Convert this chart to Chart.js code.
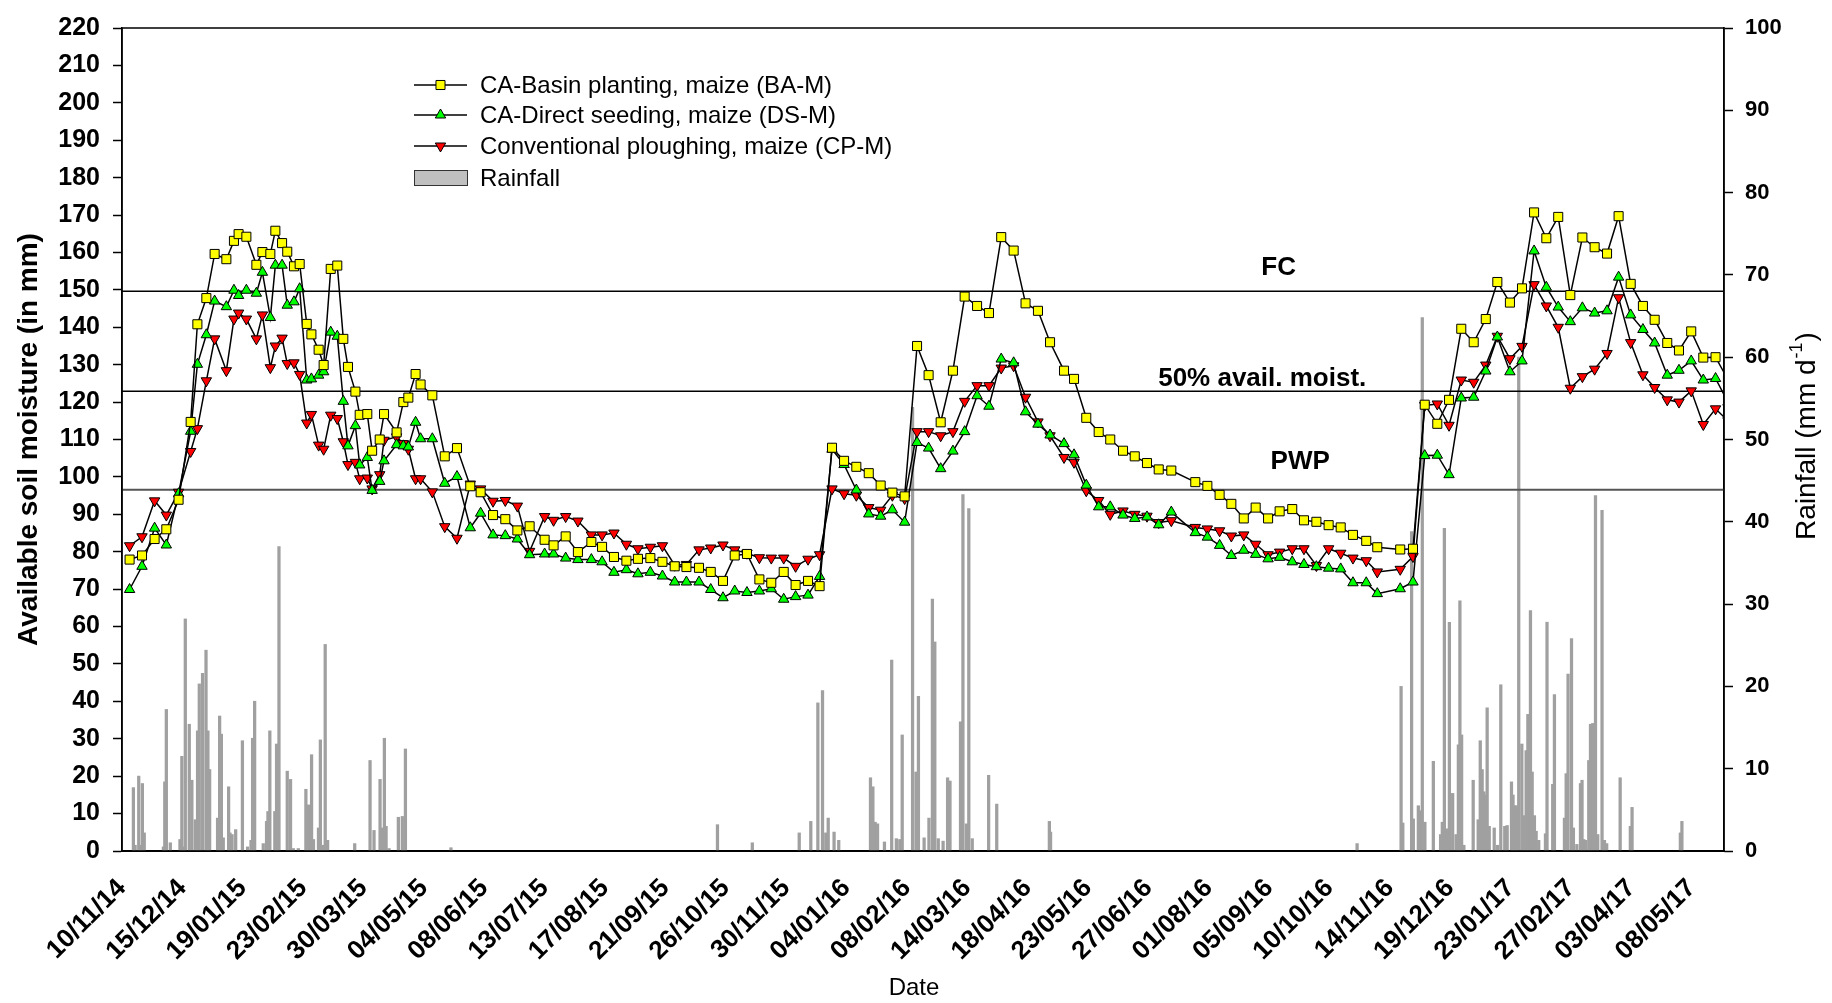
<!DOCTYPE html>
<html><head><meta charset="utf-8">
<script src="https://cdn.jsdelivr.net/npm/chart.js@4.4.1/dist/chart.umd.min.js"></script>
<style>html,body{margin:0;padding:0;background:#fff;}</style>
</head><body>
<canvas id="c" width="1832" height="1003"></canvas>
<script>
// ---------- DATA ----------
const dateTicks = ['10/11/14','15/12/14','19/01/15','23/02/15','30/03/15','04/05/15','08/06/15','13/07/15','17/08/15','21/09/15','26/10/15','30/11/15','04/01/16','08/02/16','14/03/16','18/04/16','23/05/16','27/06/16','01/08/16','05/09/16','10/10/16','14/11/16','19/12/16','23/01/17','27/02/17','03/04/17','08/05/17'];
const tickStepDays = 35;

// sampling dates, in days after 10/11/14
const sampleDays = [4.4,11.6,18.9,25.7,32.8,39.8,43.7,48.9,53.7,60.5,64.9,67.6,72.1,77.9,81.4,86.0,88.9,92.8,95.8,99.7,103.0,107.1,109.8,114.0,116.9,121.0,124.8,128.3,131.0,135.3,137.8,142.2,145.0,149.4,151.9,159.2,163.1,166.0,170.2,173.1,179.9,187.1,194.2,201.9,207.9,215.1,222.2,229.2,236.3,245.0,250.2,257.2,264.3,272.1,278.3,285.2,292.4,299.1,306.3,313.3,320.4,327.2,334.5,341.3,348.4,355.2,362.3,369.5,376.4,383.6,390.5,397.7,404.4,411.6,418.6,425.7,432.9,439.8,446.6,453.7,460.9,467.6,474.6,481.7,488.5,495.7,502.6,509.7,516.9,523.8,531.0,538.0,546.1,551.9,559.0,566.2,572.9,580.3,587.1,594.2,601.0,608.3,622.2,629.2,636.3,643.1,650.3,657.2,664.4,671.1,678.4,685.2,692.4,699.5,706.5,713.6,721.3,727.7,741.0,748.4,755.2,762.5,769.3,776.4,783.6,790.6,797.3,804.6,811.6,818.6,825.7,832.6,839.6,846.6,853.7,860.9,867.6,874.6,881.7,888.5,895.8,902.6,909.7,916.7,923.8,931.0];

const baM = [77.9,79.0,83.4,86.0,93.9,114.7,140.8,147.8,159.6,158.2,163.1,164.9,164.2,156.7,160.1,159.6,165.8,162.5,160.2,156.3,156.9,140.9,138.1,134.0,129.9,155.6,156.5,136.9,129.4,122.8,116.6,116.8,107.0,110.0,116.8,111.9,120.0,121.2,127.5,124.7,121.8,105.5,107.7,97.5,95.9,89.8,88.7,85.7,86.8,83.2,81.7,84.1,79.9,82.6,81.3,78.6,77.6,78.1,78.3,77.3,76.1,75.9,75.7,74.6,72.2,79.0,79.4,72.6,71.7,74.6,71.1,72.2,70.8,107.8,104.3,102.7,101.0,97.7,95.8,94.8,135.0,127.2,114.6,128.4,148.2,145.7,143.8,164.1,160.5,146.4,144.4,136.0,128.4,126.2,115.8,112.0,110.0,107.0,105.5,103.7,102.0,101.7,98.6,97.6,95.2,92.8,88.9,91.8,88.9,90.8,91.4,88.4,88.0,87.1,86.5,84.5,82.9,81.2,80.6,80.8,119.3,114.2,120.6,139.6,136.0,142.2,152.1,146.6,150.4,170.7,163.8,169.5,148.6,164.0,161.4,159.7,169.7,151.6,145.7,142.0,135.8,133.8,138.9,131.9,132.0,126.0];

const dsM = [69.9,76.1,86.3,81.8,95.5,112.2,130.1,138.0,147.0,145.5,149.9,148.5,149.9,149.1,154.7,142.6,156.6,156.6,145.9,146.8,150.3,125.9,126.2,127.2,128.1,138.7,137.6,120.2,108.3,113.7,103.2,105.2,96.4,98.8,104.3,108.6,108.3,108.0,114.6,110.2,110.2,98.3,100.1,86.4,90.3,84.5,84.3,83.4,79.2,79.4,79.4,78.3,77.9,77.9,77.3,74.5,75.2,74.1,74.5,73.5,71.9,71.9,71.9,69.9,67.7,69.5,69.1,69.5,70.1,67.3,68.0,68.4,73.4,107.4,103.3,96.5,90.1,89.5,91.2,87.9,109.2,107.7,102.2,106.9,112.1,121.7,118.9,131.5,130.5,117.4,114.1,111.2,108.9,105.9,97.8,92.0,92.0,89.8,88.9,89.3,87.2,90.6,85.1,83.9,81.7,79.0,80.4,79.3,78.1,78.5,77.3,76.6,76.0,75.6,75.4,71.7,71.7,68.8,70.1,71.9,105.7,105.8,100.6,121.1,121.3,128.3,137.4,128.1,131.0,160.4,150.7,145.4,141.5,145.2,143.8,144.4,153.4,143.3,139.4,135.8,127.2,128.5,131.0,125.9,126.3,120.0];

const cpM = [81.6,84.0,93.6,89.8,95.9,106.8,112.9,125.7,136.9,128.4,142.2,143.8,142.2,136.9,143.3,129.2,135.0,137.1,130.3,130.5,127.4,114.4,116.7,108.5,107.4,116.5,115.6,109.4,103.3,103.9,99.5,99.7,96.8,100.6,109.8,110.7,108.9,107.4,99.5,99.5,96.0,86.7,83.6,98.1,96.8,93.5,93.7,92.2,80.1,89.4,88.4,89.4,88.2,84.5,84.5,85.0,82.0,80.8,81.2,81.6,76.4,76.6,80.5,81.0,81.8,80.5,79.6,78.4,78.3,78.3,76.1,78.0,79.2,96.8,95.5,95.1,91.8,91.1,95.1,94.2,112.1,112.1,111.0,112.1,120.2,124.4,124.4,129.1,129.7,121.3,114.7,111.0,105.2,103.9,96.3,93.7,90.0,90.9,90.0,89.5,87.8,88.3,86.5,86.1,85.6,84.2,84.5,82.0,79.2,79.9,80.8,80.8,76.3,80.8,79.6,78.3,77.6,74.6,75.3,78.7,119.1,119.5,113.8,125.9,125.3,129.9,137.6,131.6,134.9,151.4,145.7,140.0,123.7,126.8,128.8,133.0,147.9,135.9,127.3,123.9,120.6,120.0,123.0,114.0,118.2,115.0];

// daily rainfall (mm/d), day after 10/11/14
const rainDays = [6.6,7.6,9.7,10.6,11.8,12.9,24.0,24.8,25.7,28.0,33.6,34.7,35.7,36.7,39.0,40.5,42.5,43.8,44.8,46.7,48.7,49.8,50.8,55.4,56.6,57.6,58.7,61.8,62.6,63.8,65.9,69.8,72.8,74.8,75.7,76.9,81.9,83.8,84.6,85.7,88.6,89.6,91.0,95.8,97.7,99.3,102.2,106.6,108.1,109.9,111.0,113.9,115.0,116.6,117.8,119.2,134.9,143.8,146.1,149.6,151.1,152.1,153.1,154.8,160.2,162.5,164.3,190.7,345.2,365.4,392.6,399.3,403.4,406.1,408.0,409.4,412.8,415.5,433.9,435.3,436.6,438.0,442.0,446.2,448.9,450.9,452.3,458.3,460.3,461.7,465.0,467.8,469.8,471.2,473.2,476.0,478.6,480.0,486.1,487.5,489.5,490.9,492.9,502.4,507.1,537.6,538.3,716.0,741.5,742.5,747.6,748.6,751.5,752.8,753.8,755.3,760.2,764.4,765.4,766.6,768.5,769.5,771.4,773.4,774.7,775.6,776.6,777.9,783.3,786.2,787.4,788.5,789.5,790.4,791.4,792.6,795.5,797.4,799.3,801.6,803.0,805.5,806.4,807.4,808.4,809.7,811.5,812.7,814.0,815.0,816.5,817.5,818.8,819.8,821.3,825.2,826.1,829.4,830.4,836.2,837.2,838.3,840.3,841.4,843.4,845.5,846.4,847.4,848.4,850.3,851.3,852.6,854.2,855.5,858.0,859.4,860.7,868.5,874.4,875.4,903.4,904.3];
const rainMm = [7.7,0.7,9.1,0.7,8.2,2.2,0.5,8.4,17.2,1.0,1.4,11.5,0.5,28.2,15.4,8.6,3.8,14.6,20.3,21.6,24.4,14.6,9.9,4.0,16.4,14.2,1.6,7.8,2.2,2.0,2.6,13.4,0.5,1.3,13.7,18.2,0.9,3.6,4.8,14.6,4.8,13.0,37.0,9.7,8.7,0.3,0.3,7.5,5.6,11.7,1.4,2.8,13.5,0.7,25.1,1.3,0.9,11.0,2.5,8.7,2.8,13.7,3.0,0.3,4.1,4.2,12.4,0.4,3.2,1.0,2.2,3.6,18.0,19.5,2.2,4.0,2.3,1.3,8.9,7.8,3.5,3.3,1.1,23.2,1.5,1.4,14.1,53.9,9.6,18.8,1.6,4.0,30.6,25.4,1.5,1.2,8.9,8.5,15.7,43.3,3.3,41.6,1.5,9.2,5.7,3.6,2.3,0.9,20.0,3.4,38.8,3.9,5.5,4.9,64.8,3.5,10.9,2.0,3.5,39.2,2.7,27.8,7.0,2.0,12.9,30.4,14.1,0.7,8.6,3.8,13.4,9.9,7.2,6.8,17.4,3.0,2.8,0.7,20.2,3.0,3.1,8.4,6.8,5.5,5.5,60.0,13.0,4.3,12.2,16.6,29.2,9.6,4.3,2.4,1.3,2.1,27.8,8.1,19.0,4.0,9.4,21.5,25.8,2.8,0.8,8.2,8.6,1.4,1.3,11.0,15.4,15.5,43.2,2.0,41.4,1.3,0.9,8.9,3.0,5.3,2.2,3.6];

// reference soil-moisture levels (mm)
const refNames  = ['FC','50% avail. moist.','PWP'];
const refLevels = [149.6, 122.9, 96.6];

const seriesNames = ['CA-Basin planting, maize (BA-M)','CA-Direct seeding, maize (DS-M)','Conventional ploughing, maize (CP-M)','Rainfall'];
const xTitle = 'Date';

// ---------- CHART ----------
const FONT = "'Liberation Sans', Arial, Helvetica, sans-serif";
const X_MAX = 928.7;
const xy = arr => sampleDays.map((d,i)=>({x:d, y:arr[i]}));
const refSet = (lvl, col, w) => ({type:'line', data:[{x:0,y:lvl},{x:X_MAX,y:lvl}], borderColor:col, borderWidth:w, pointRadius:0, yAxisID:'y', order:5});

const framePlugin = {
  id:'frame',
  afterDatasetsDraw(chart){
    const {ctx, chartArea:a} = chart;
    ctx.save();
    ctx.strokeStyle='#000'; ctx.lineWidth=1.5;
    ctx.strokeRect(a.left, a.top, a.right-a.left, a.bottom-a.top);
    ctx.restore();
  }
};

const refLabelPlugin = {
  id:'refLabels',
  afterDatasetsDraw(chart){
    const {ctx, scales:{x,y}} = chart;
    const xPos = [670.5, 661, 683];   // label centre, in days
    const up   = [24, 12, 28];        // px above line
    ctx.save();
    ctx.fillStyle='#000';
    ctx.font = "bold 26px "+FONT;
    ctx.textAlign='center'; ctx.textBaseline='middle';
    refNames.forEach((n,i)=>{
      ctx.fillText(n, x.getPixelForValue(xPos[i]), y.getPixelForValue(refLevels[i]) - up[i]);
    });
    ctx.restore();
  }
};

const legendPlugin = {
  id:'customLegend',
  afterDraw(chart){
    const ctx = chart.ctx;
    const x0 = 414, x1 = 467, tx = 480;
    const rows = [85, 115, 146, 178];
    const styles = [
      {pointStyle:'rect', rotation:0, radius:6.4, fill:'#ffff00'},
      {pointStyle:'triangle', rotation:0, radius:6, fill:'#00ff00'},
      {pointStyle:'triangle', rotation:180, radius:6, fill:'#ff0000'}
    ];
    ctx.save();
    ctx.font = "24px "+FONT;
    ctx.textBaseline='middle'; ctx.textAlign='left';
    seriesNames.forEach((name,i)=>{
      const yy = rows[i];
      if (i<3){
        ctx.strokeStyle='#000'; ctx.lineWidth=1.5;
        ctx.beginPath(); ctx.moveTo(x0,yy); ctx.lineTo(x1,yy); ctx.stroke();
        const s = styles[i];
        ctx.fillStyle = s.fill; ctx.strokeStyle='#000'; ctx.lineWidth=1;
        Chart.helpers.drawPoint(ctx, {pointStyle:s.pointStyle, rotation:s.rotation, radius:s.radius, borderWidth:1}, (x0+x1)/2, yy);
      } else {
        ctx.fillStyle='#c0c0c0'; ctx.fillRect(x0, yy-7.5, x1-x0, 15);
        ctx.strokeStyle='#333'; ctx.lineWidth=1; ctx.strokeRect(x0+0.5, yy-7.5, x1-x0, 15);
      }
      ctx.fillStyle='#000';
      ctx.fillText(name, tx, yy+1);
    });
    ctx.restore();
  }
};

const titlesPlugin = {
  id:'titles',
  afterDraw(chart){
    const ctx = chart.ctx;
    ctx.save();
    ctx.fillStyle='#000';
    // x title
    ctx.font = "24px "+FONT; ctx.textAlign='center'; ctx.textBaseline='middle';
    ctx.fillText(xTitle, 914, 988);
    // right title with superscript
    const main = "Rainfall (mm d", sup = "-1", tail = ")";
    ctx.translate(1807, 437);
    ctx.rotate(-Math.PI/2);
    ctx.textAlign='left';
    const bigF = "28px "+FONT, supF = "18px "+FONT;
    ctx.font = bigF; const w1 = ctx.measureText(main).width, w3 = ctx.measureText(tail).width;
    ctx.font = supF; const w2 = ctx.measureText(sup).width;
    let sx = -(w1+w2+w3)/2;
    ctx.font = bigF; ctx.fillText(main, sx, 0); sx += w1;
    ctx.font = supF; ctx.fillText(sup, sx+1, -10); sx += w2+2;
    ctx.font = bigF; ctx.fillText(tail, sx, 0);
    ctx.restore();
  }
};

new Chart(document.getElementById('c'), {
  type:'line',
  data:{ datasets:[
    {type:'bar', label:'Rainfall', data: rainDays.map((d,i)=>({x:d, y:rainMm[i]})), yAxisID:'y2',
     backgroundColor:'#a0a0a0', borderWidth:0, barThickness:2.6, order:10},
    refSet(refLevels[0], '#000', 1.5),
    refSet(refLevels[1], '#000', 1.5),
    refSet(refLevels[2], '#555', 2),
    {label:'CP-M', data:xy(cpM), yAxisID:'y', borderColor:'#000', borderWidth:1.5, tension:0,
     pointStyle:'triangle', rotation:180, pointRadius:6, pointBackgroundColor:'#ff0000', pointBorderColor:'#000', pointBorderWidth:1, order:3},
    {label:'DS-M', data:xy(dsM), yAxisID:'y', borderColor:'#000', borderWidth:1.5, tension:0,
     pointStyle:'triangle', rotation:0, pointRadius:6, pointBackgroundColor:'#00ff00', pointBorderColor:'#000', pointBorderWidth:1, order:2},
    {label:'BA-M', data:xy(baM), yAxisID:'y', borderColor:'#000', borderWidth:1.5, tension:0,
     pointStyle:'rect', pointRadius:6.4, pointBackgroundColor:'#ffff00', pointBorderColor:'#000', pointBorderWidth:1, order:1}
  ]},
  options:{
    responsive:false, animation:false, devicePixelRatio:1,
    layout:{padding:{top:19, left:0, right:0, bottom:0}},
    plugins:{legend:{display:false}, tooltip:{enabled:false}},
    scales:{
      x:{type:'linear', min:0, max:X_MAX, offset:false,
         afterBuildTicks: s => { s.ticks = dateTicks.map((t,i)=>({value:i*tickStepDays})); },
         ticks:{callback:(v,i)=>dateTicks[i], autoSkip:false, minRotation:45, maxRotation:45,
                font:{family:FONT, size:26, weight:'bold'}, color:'#000', padding:22},
         grid:{display:false, drawTicks:false},
         border:{display:true, color:'#000', width:2},
         title:{display:false},
         afterFit: s => { s.height = 152; }
      },
      y:{position:'left', min:0, max:220,
         ticks:{stepSize:10, font:{family:FONT, size:25, weight:'bold'}, color:'#000', padding:13},
         grid:{drawOnChartArea:false, tickLength:9, color:'#000', tickWidth:1.5},
         border:{display:true, color:'#000', width:1.5},
         title:{display:true, text:'Available soil moisture (in mm)', font:{family:FONT, size:28, weight:'bold'}, color:'#000', padding:{top:12,bottom:0}},
         afterFit: s => { s.width = 122; }
      },
      y2:{position:'right', min:0, max:100,
         ticks:{stepSize:10, font:{family:FONT, size:22, weight:'bold'}, color:'#000', padding:12},
         grid:{drawOnChartArea:false, tickLength:9, color:'#000', tickWidth:1.5},
         border:{display:true, color:'#000', width:1.5},
         afterFit: s => { s.width = 108; }
      }
    }
  },
  plugins:[framePlugin, refLabelPlugin, legendPlugin, titlesPlugin]
});
</script>
</body></html>
